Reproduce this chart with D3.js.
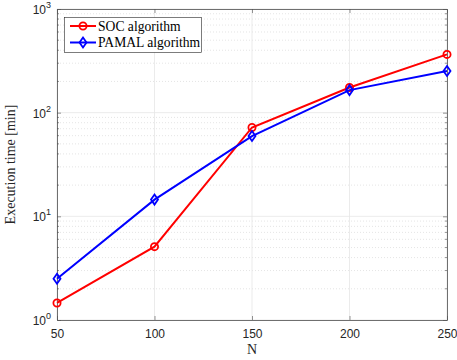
<!DOCTYPE html>
<html><head><meta charset="utf-8">
<script src="https://cdn.jsdelivr.net/npm/d3@7"></script>
<style>body{margin:0;background:#fff}svg{display:block}</style>
</head><body>
<script>
const categories = [50, 100, 150, 200, 250];
const socValues = [1.46, 5.1, 72, 175, 365];
const pamalValues = [2.5, 14.5, 59.5, 165, 252];
const xTicks = [50, 100, 150, 200, 250];
const yTicks = [1, 10, 100, 1000];
const seriesNames = ["SOC algorithm", "PAMAL algorithm"];

const W = 457, H = 360;
const m = {l:57, r:10, t:9, b:40};
const svg = d3.select("body").append("svg").attr("width", W).attr("height", H);
const x = d3.scaleLinear().domain([50,250]).range([m.l, W-m.r]);
const y = d3.scaleLog().domain([1,1000]).range([H-m.b, m.t]);

// minor grid
const minor = [];
for (let d=1; d<1000; d*=10) for (let k=2;k<=9;k++) minor.push(d*k);
svg.append("g").selectAll("line").data(minor).join("line")
  .attr("x1", m.l).attr("x2", W-m.r).attr("y1", d=>y(d)).attr("y2", d=>y(d))
  .attr("stroke", "#d4d4d4").attr("stroke-width", 0.6).attr("stroke-dasharray", "1,2");
// major grid
svg.append("g").selectAll("line").data(yTicks).join("line")
  .attr("x1", m.l).attr("x2", W-m.r).attr("y1", d=>y(d)).attr("y2", d=>y(d))
  .attr("stroke", "#e6e6e6").attr("stroke-width", 0.8);
svg.append("g").selectAll("line").data(xTicks).join("line")
  .attr("y1", m.t).attr("y2", H-m.b).attr("x1", d=>x(d)).attr("x2", d=>x(d))
  .attr("stroke", "#e6e6e6").attr("stroke-width", 0.8);

// axes
const axCol = "#4d4d4d";
const xa = svg.append("g").attr("transform", `translate(0,${H-m.b})`)
  .call(d3.axisBottom(x).tickValues(xTicks).tickSizeInner(-4).tickSizeOuter(0).tickPadding(9));
const xa2 = svg.append("g").attr("transform", `translate(0,${m.t})`)
  .call(d3.axisTop(x).tickValues(xTicks).tickSizeInner(-4).tickSizeOuter(0).tickFormat(""));
const ya = svg.append("g").attr("transform", `translate(${m.l},0)`)
  .call(d3.axisLeft(y).tickValues(yTicks).tickSizeInner(-4).tickSizeOuter(0).tickFormat(""));
const ya2 = svg.append("g").attr("transform", `translate(${W-m.r},0)`)
  .call(d3.axisRight(y).tickValues(yTicks).tickSizeInner(-4).tickSizeOuter(0).tickFormat(""));
// minor ticks
svg.append("g").selectAll("line").data(minor).join("line")
  .attr("x1", m.l).attr("x2", m.l+2).attr("y1", d=>y(d)).attr("y2", d=>y(d)).attr("stroke", axCol).attr("stroke-width",0.6);
svg.append("g").selectAll("line").data(minor).join("line")
  .attr("x1", W-m.r).attr("x2", W-m.r-2).attr("y1", d=>y(d)).attr("y2", d=>y(d)).attr("stroke", axCol).attr("stroke-width",0.6);
[xa,xa2,ya,ya2].forEach(g=>{
  g.select(".domain").attr("stroke", axCol).attr("stroke-width", 0.8);
  g.selectAll(".tick line").attr("stroke", axCol).attr("stroke-width", 0.6);
  g.selectAll("text").attr("fill", "#262626").attr("font-family", "Liberation Sans, Arial, sans-serif").attr("font-size", 12);
});
// y tick labels with superscripts
const yl = svg.append("g").selectAll("text").data(yTicks).join("text")
  .attr("x", m.l-6).attr("y", d=>y(d)+5).attr("text-anchor","end")
  .attr("font-family","Liberation Sans, Arial, sans-serif").attr("font-size",12).attr("fill","#262626");
yl.append("tspan").text("10");
yl.append("tspan").attr("dy",-6).attr("font-size",9).text(d=>Math.round(Math.log10(d)));

// lines
const line = d3.line().x((d,i)=>x(categories[i])).y(d=>y(d));
const series = [
  {name: seriesNames[0], vals: socValues, color: "#ff0000", marker: "circle"},
  {name: seriesNames[1], vals: pamalValues, color: "#0000ff", marker: "diamond"}
];
function marker(g, type, cx, cy, color){
  if (type==="circle") g.append("circle").attr("cx",cx).attr("cy",cy).attr("r",3.6)
    .attr("fill","none").attr("stroke",color).attr("stroke-width",1.8);
  else g.append("path").attr("d",`M${cx},${cy-5}L${cx+3.5},${cy}L${cx},${cy+5}L${cx-3.5},${cy}Z`)
    .attr("fill","none").attr("stroke",color).attr("stroke-width",1.8);
}
series.forEach(s=>{
  svg.append("path").datum(s.vals).attr("d", line).attr("fill","none")
    .attr("stroke", s.color).attr("stroke-width", 2);
  const g = svg.append("g");
  s.vals.forEach((v,i)=>marker(g, s.marker, x(categories[i]), y(v), s.color));
});

// legend
const lg = svg.append("g");
lg.append("rect").attr("x",64.5).attr("y",17.5).attr("width",137).attr("height",35)
  .attr("fill","#fff").attr("stroke","#262626").attr("stroke-width",0.6);
series.forEach((s,i)=>{
  const yy = 26 + i*16.5;
  lg.append("line").attr("x1",70).attr("x2",96).attr("y1",yy).attr("y2",yy).attr("stroke",s.color).attr("stroke-width",2);
  marker(lg, s.marker, 83, yy, s.color);
  lg.append("text").attr("x",98).attr("y",yy+4.5).text(s.name)
    .attr("font-family","Liberation Serif, Times New Roman, serif").attr("font-size",13.6).attr("fill","#000");
});

// axis labels
svg.append("text").attr("x", x(150)).attr("y", 354).attr("text-anchor","middle")
  .attr("font-family","Liberation Serif, Times New Roman, serif").attr("font-size",14).attr("fill","#262626").text("N");
svg.append("text").attr("transform", `translate(15,${(m.t+H-m.b)/2}) rotate(-90)`).attr("text-anchor","middle")
  .attr("font-family","Liberation Serif, Times New Roman, serif").attr("font-size",14).attr("fill","#262626").text("Execution time [min]");
</script>
</body></html>
